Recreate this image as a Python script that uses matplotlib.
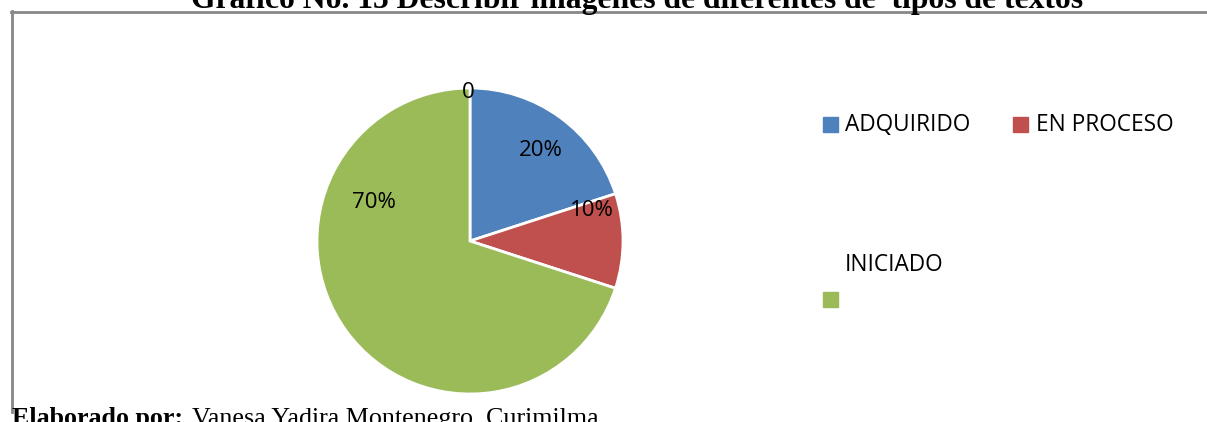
import numpy as np
import matplotlib
matplotlib.use('Agg')
import matplotlib.pyplot as plt
from matplotlib.patches import Rectangle

# data
categories = ['ADQUIRIDO', 'EN PROCESO', 'INICIADO']
values = [20, 10, 70]
pct_labels = ['20%', '10%', '70%']
colors = ['#4F81BD', '#C0504D', '#9BBB59']
zero_label = '0'

title = 'Grafico No. 15 Describir imagenes de diferentes de  tipos de textos'

W, H = 1207, 422
fig = plt.figure(figsize=(W / 100, H / 100), dpi=100)


def fx(px):
    return px / W


def fy(py):
    return 1 - py / H


# chart frame (left + top border, gray)
fig.add_artist(plt.Line2D([fx(12), fx(12)], [fy(11), fy(412)], color='#888888', lw=2))
fig.add_artist(plt.Line2D([fx(11), fx(W)], [fy(12), fy(12)], color='#888888', lw=2))

# pie
cx, cy, r = 470, 241, 153
half = 165
ax = fig.add_axes([fx(cx - half), fy(cy + half), fx(2 * half), (2 * half) / H])
ax.pie(values, colors=colors, startangle=90, counterclock=False, radius=1.0,
       wedgeprops=dict(edgecolor='white', linewidth=2))
lim = half / r
ax.set_xlim(-lim, lim)
ax.set_ylim(-lim, lim)
ax.set_aspect('equal')
ax.axis('off')

# data labels (Excel "best fit" placement)
label_pos = [(52, 0.75), (14, 0.82), (158, 0.68)]
for txt, (ang, d) in zip(pct_labels, label_pos):
    a = np.deg2rad(ang)
    ax.text(d * np.cos(a), d * np.sin(a), txt, ha='center', va='center',
            fontsize=16, family='Open Sans', color='black')
ax.text(-0.01, 0.97, zero_label, ha='center', va='center', fontsize=16,
        family='Open Sans', color='black')

# legend, laid out like the original
leg = [(823, 117, 845, 125), (1013, 117, 1036, 125)]
for (sx, sy, tx, ty), c, name in zip(leg, colors[:2], categories[:2]):
    fig.add_artist(Rectangle((fx(sx), fy(sy + 15)), 15 / W, 15 / H, color=c,
                             transform=fig.transFigure))
    fig.text(fx(tx), fy(ty), name, ha='left', va='center', fontsize=16.3, family='Open Sans')
fig.text(fx(845), fy(265), categories[2], ha='left', va='center', fontsize=16.3, family='Open Sans')
fig.add_artist(Rectangle((fx(823), fy(307)), 15 / W, 15 / H, color=colors[2],
                         transform=fig.transFigure))

# title (cut at the top like the source)
fig.text(fx(637), fy(8), title, ha='center', va='baseline', fontsize=22.8,
         family='Liberation Serif', fontweight='bold')

# footer
fig.text(fx(12), fy(425), 'Elaborado por:', ha='left', va='baseline', fontsize=18.7,
         family='Liberation Serif', fontweight='bold')
fig.text(fx(192), fy(425), 'Vanesa Yadira Montenegro  Curimilma', ha='left', va='baseline',
         fontsize=18.7, family='Liberation Serif')

fig.savefig('out.png', dpi=100, facecolor='white')
